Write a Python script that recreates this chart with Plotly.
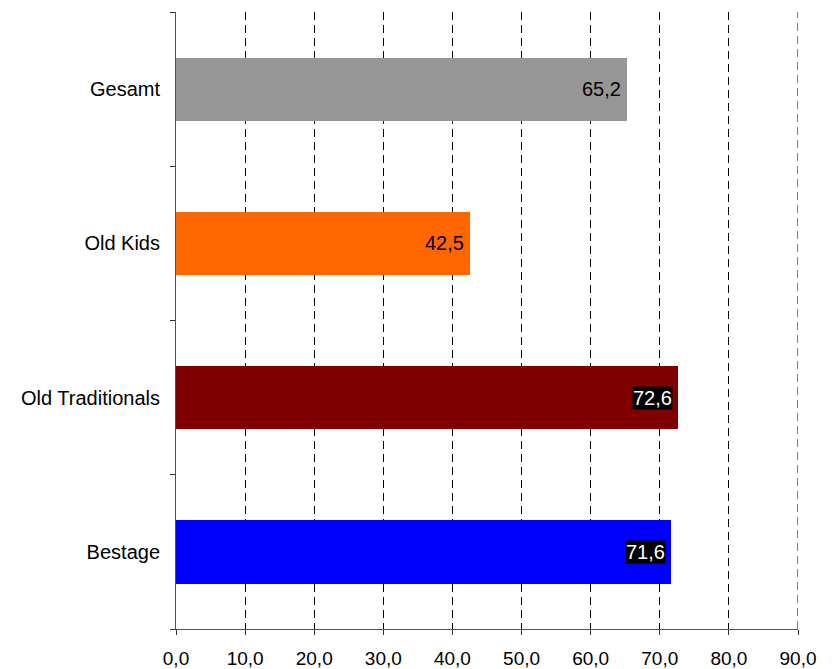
import plotly.graph_objects as go

categories = ["Gesamt", "Old Kids", "Old Traditionals", "Bestage"]
values = [65.2, 42.5, 72.6, 71.6]
colors = ["#969696", "#FF6600", "#800000", "#0000FF"]
label_dark = [False, False, True, True]
x_ticks = [0, 10, 20, 30, 40, 50, 60, 70, 80, 90]

positions = list(range(len(categories)))
FONT = "Liberation Sans, Arial"

fig = go.Figure()
fig.add_trace(go.Bar(
    y=positions,
    x=values,
    orientation="h",
    marker=dict(color=colors, line=dict(width=0)),
    width=0.41,
    hoverinfo="skip",
    showlegend=False,
))
# invisible trace on the label axis so the category names render as tick labels
fig.add_trace(go.Scatter(
    x=[0] * len(categories), y=positions, yaxis="y2",
    mode="markers", marker=dict(opacity=0), showlegend=False, hoverinfo="skip",
))

for pos, v, dark in zip(positions, values, label_dark):
    txt = f"{v:.1f}".replace(".", ",")
    fig.add_annotation(
        x=v, y=pos, xref="x", yref="y",
        text=txt, showarrow=False,
        xanchor="right", xshift=-5,
        font=dict(family=FONT, size=20, color="white" if dark else "black"),
        bgcolor="black" if dark else "rgba(0,0,0,0)",
        borderpad=0,
    )

# dashed gridline on the right edge of the plot
fig.add_shape(type="line", xref="x", yref="paper", x0=90, x1=90, y0=0, y1=1,
              line=dict(color="black", width=1, dash="8px,5px"), layer="below")

boundaries = [p - 0.5 for p in positions] + [positions[-1] + 0.5]

fig.update_layout(
    width=838, height=669,
    margin=dict(l=176, r=40, t=12, b=40, autoexpand=False),
    plot_bgcolor="white", paper_bgcolor="white",
    separators=",.",
    font=dict(family=FONT, size=19, color="black"),
    xaxis=dict(
        range=[0, 90], tickvals=x_ticks, tickformat=".1f",
        showgrid=True, gridcolor="black", gridwidth=1, griddash="8px,5px",
        zeroline=False, showline=True, linecolor="#555", linewidth=1,
        ticks="outside", ticklen=5, tickcolor="#333",
        ticklabelstandoff=7,
        tickfont=dict(size=19), automargin=False,
    ),
    yaxis=dict(
        range=[len(categories) - 0.5, -0.5],
        tickvals=boundaries, ticktext=[""] * len(boundaries),
        showgrid=False, zeroline=False, showline=True, linecolor="#555", linewidth=1,
        ticks="outside", ticklen=5, tickcolor="#333", automargin=False,
    ),
    yaxis2=dict(
        overlaying="y", side="left",
        range=[len(categories) - 0.5, -0.5],
        tickvals=positions, ticktext=categories,
        showgrid=False, zeroline=False, showline=False, ticks="",
        ticklabelstandoff=15, automargin=False,
        tickfont=dict(size=20),
    ),
    bargap=0,
)

fig.write_html("out.html")
